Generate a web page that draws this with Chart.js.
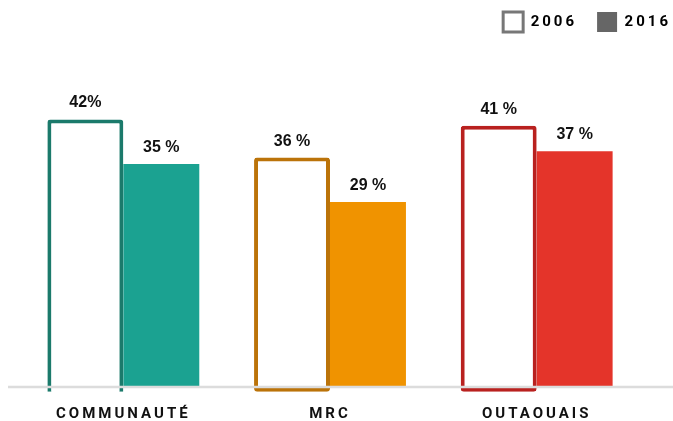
<!DOCTYPE html>
<html>
<head>
<meta charset="utf-8">
<script src="https://cdn.jsdelivr.net/npm/chart.js@4.4.1/dist/chart.umd.min.js"></script>
<style>
    html, body { margin: 0; padding: 0; background: #fff; }
    #wrap { width: 673px; height: 421px; }
</style>
</head>
<body>
<div id="wrap"><canvas id="myChart"></canvas></div>
<script>
const categories = ['COMMUNAUTÉ', 'MRC', 'OUTAOUAIS'];
const years = ['2006', '2016'];
const values2006 = [42, 36, 41];
const values2016 = [35, 29, 37];
// separator between the number and the % sign in each label
const pctSep2006 = ['', ' ', ' '];
const pctSep2016 = [' ', ' ', ' '];

const lineColors = ['#1b7a6b', '#bb7309', '#b9211f'];
const fillColors = ['#1ba291', '#f09300', '#e4342a'];

// spaced-out caps for axis and legend text
const spacing = {
    id: 'spacing',
    beforeLayout(chart) { chart.ctx.letterSpacing = '3px'; },
    beforeDraw(chart) { chart.ctx.letterSpacing = '3px'; }
};

// grey base line at zero
const baseLine = {
    id: 'baseLine',
    afterDatasetsDraw(chart) {
        const ctx = chart.ctx;
        const py = chart.scales.y.getPixelForValue(0);
        ctx.save();
        ctx.strokeStyle = '#dcdcdc';
        ctx.lineWidth = 2.5;
        ctx.beginPath();
        ctx.moveTo(8, py + 1);
        ctx.lineTo(chart.width, py + 1);
        ctx.stroke();
        ctx.restore();
    }
};

// percentages above each bar
const valueLabels = {
    id: 'valueLabels',
    afterDatasetsDraw(chart) {
        const ctx = chart.ctx;
        ctx.save();
        ctx.letterSpacing = '0px';
        ctx.font = 'bold 16px "Liberation Sans", sans-serif';
        ctx.fillStyle = '#111';
        ctx.textAlign = 'center';
        ctx.textBaseline = 'alphabetic';
        [[values2006, pctSep2006], [values2016, pctSep2016]].forEach(function (pair, di) {
            chart.getDatasetMeta(di).data.forEach(function (bar, i) {
                ctx.fillText(pair[0][i] + pair[1][i] + '%', bar.x, bar.y - 12);
            });
        });
        ctx.restore();
    }
};

let myChart = new Chart(document.getElementById('myChart'), {
    type: 'bar',
    data: {
        labels: categories,
        datasets: [
            {
                label: years[0],
                data: values2006,
                backgroundColor: '#fff',
                borderColor: lineColors,
                borderWidth: 4,
                borderRadius: 3,
                borderSkipped: c => c.dataIndex === 0 ? 'bottom' : false,
                base: -0.9,
                categoryPercentage: 0.735,
                barPercentage: 1
            },
            {
                label: years[1],
                data: values2016,
                backgroundColor: fillColors,
                borderWidth: 0,
                categoryPercentage: 0.735,
                barPercentage: 1
            }
        ]
    },
    options: {
        responsive: true,
        maintainAspectRatio: false,
        animation: false,
        layout: {padding: {top: -8, left: 20, right: -18, bottom: -14}},
        scales: {
            x: {
                grid: {display: false, drawTicks: false},
                border: {display: false},
                ticks: {
                    padding: 13,
                    color: '#111',
                    font: {family: 'Roboto', size: 15, weight: 'bold', lineHeight: 1}
                }
            },
            y: {
                position: 'right',
                min: -1.25,
                max: 54.2,
                grid: {display: false},
                border: {display: false},
                ticks: {display: false},
                afterFit: s => { s.width = 51; }
            }
        },
        plugins: {
            legend: {
                position: 'top',
                align: 'end',
                labels: {
                    boxWidth: 20,
                    boxHeight: 20,
                    padding: 20,
                    color: '#111',
                    font: {family: 'Roboto', size: 15, weight: 'bold'},
                    generateLabels: () => [
                        {text: years[0], fillStyle: '#fff', strokeStyle: '#777', lineWidth: 3, datasetIndex: 0},
                        {text: years[1], fillStyle: '#666', strokeStyle: '#666', lineWidth: 0, datasetIndex: 1}
                    ]
                }
            },
            tooltip: {enabled: false}
        }
    },
    plugins: [spacing, baseLine, valueLabels]
});
</script>
</body>
</html>
